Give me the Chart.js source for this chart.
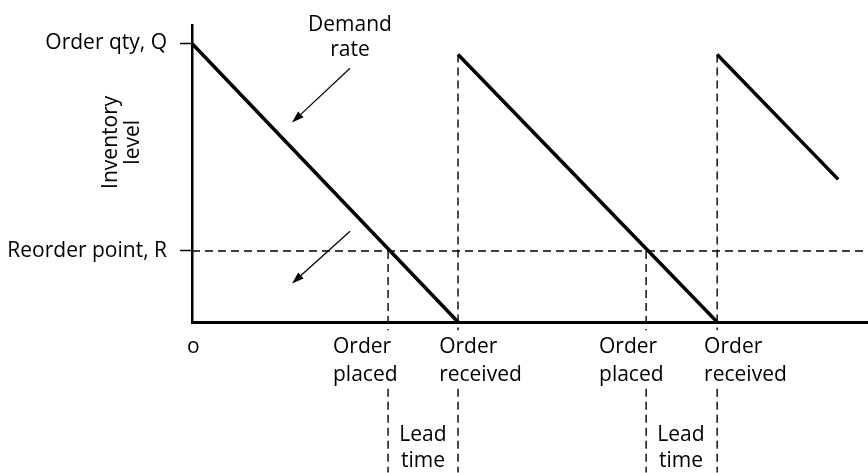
<!DOCTYPE html>
<html>
<head>
<meta charset="utf-8">
<script src="https://cdn.jsdelivr.net/npm/chart.js@4/dist/chart.umd.min.js"></script>
<style>
html,body{margin:0;padding:0;background:#fff;}
#c{display:block;}
</style>
</head>
<body>
<canvas id="c" width="868" height="473"></canvas>
<script>
// ---- data (time units on x, inventory units on y) ----
const cycleStart = [0, 10, 19.74];
const cycleEnd = [10, 19.74, 24.29];
const startLevel = [100, 96, 96];
const endLevel = [0, 0, 51.2];
const orderQty = 100;
const reorderPoint = 25.5;
const orderPlaced = [7.37, 17.07];
const orderReceived = [10, 19.74];
const receivedLevel = [96, 96];
const yTickValues = [25.5, 100];
const yTickLabels = ['Reorder point, R', 'Order qty, Q'];
const xMax = 25.41;
const yMax = 106.4;

const FONT = '"Open Sans", "Noto Sans", sans-serif';
const FSIZE = 21;

// inventory sawtooth
const sawtooth = [];
for (let i = 0; i < cycleStart.length; i++) {
  if (i > 0) sawtooth.push({x: cycleStart[i], y: null});
  sawtooth.push({x: cycleStart[i], y: startLevel[i]});
  sawtooth.push({x: cycleEnd[i], y: endLevel[i]});
}
// vertical dashed guides
const guides = [];
const guideTops = orderPlaced.map(x => ({x, top: reorderPoint}))
  .concat(orderReceived.map((x, i) => ({x, top: receivedLevel[i]})));
guideTops.forEach(g => {
  guides.push({x: g.x, y: g.top});
  guides.push({x: g.x, y: -3});
  guides.push({x: g.x, y: null});
  guides.push({x: g.x, y: -24});
  guides.push({x: g.x, y: -54});
  guides.push({x: g.x, y: null});
});

const texts = [
  {t: 'o', x: 0.05, y: -11.0, align: 'center'},
  {t: 'Order', x: 5.30, y: -11.0, align: 'left'},
  {t: 'placed', x: 5.30, y: -21.3, align: 'left'},
  {t: 'Order', x: 9.29, y: -11.0, align: 'left'},
  {t: 'received', x: 9.29, y: -21.3, align: 'left'},
  {t: 'Order', x: 15.30, y: -11.0, align: 'left'},
  {t: 'placed', x: 15.30, y: -21.3, align: 'left'},
  {t: 'Order', x: 19.25, y: -11.0, align: 'left'},
  {t: 'received', x: 19.25, y: -21.3, align: 'left'},
  {t: 'Lead', x: 8.68, y: -42.6, align: 'center'},
  {t: 'time', x: 8.68, y: -52.1, align: 'center'},
  {t: 'Lead', x: 18.38, y: -42.6, align: 'center'},
  {t: 'time', x: 18.38, y: -52.1, align: 'center'},
  {t: 'Demand', x: 5.94, y: 104.3, align: 'center'},
  {t: 'rate', x: 5.94, y: 95.4, align: 'center'}
];
const rotTexts = [
  {t: 'Inventory', x: -3.05, y: 64.5},
  {t: 'level', x: -2.22, y: 64.5}
];
const arrows = [
  {x1: 5.94, y1: 91.1, x2: 3.76, y2: 71.6},
  {x1: 5.94, y1: 32.6, x2: 3.76, y2: 13.8}
];

const annot = {
  id: 'annot',
  afterDraw(chart) {
    const ctx = chart.ctx, xs = chart.scales.x, ys = chart.scales.y;
    ctx.save();
    ctx.fillStyle = '#000';
    ctx.font = FSIZE + 'px ' + FONT;
    ctx.textBaseline = 'alphabetic';
    texts.forEach(o => {
      ctx.textAlign = o.align;
      ctx.fillText(o.t, xs.getPixelForValue(o.x), ys.getPixelForValue(o.y));
    });
    rotTexts.forEach(o => {
      ctx.save();
      ctx.translate(xs.getPixelForValue(o.x), ys.getPixelForValue(o.y));
      ctx.rotate(-Math.PI / 2);
      ctx.textAlign = 'center';
      ctx.textBaseline = 'middle';
      ctx.fillText(o.t, 0, 0);
      ctx.restore();
    });
    arrows.forEach(a => {
      const x1 = xs.getPixelForValue(a.x1), y1 = ys.getPixelForValue(a.y1);
      const x2 = xs.getPixelForValue(a.x2), y2 = ys.getPixelForValue(a.y2);
      const ang = Math.atan2(y2 - y1, x2 - x1);
      const hl = 12, hw = 4;
      const bx = x2 - hl * Math.cos(ang), by = y2 - hl * Math.sin(ang);
      ctx.strokeStyle = '#000';
      ctx.lineWidth = 1.2;
      ctx.beginPath();
      ctx.moveTo(x1, y1);
      ctx.lineTo(bx, by);
      ctx.stroke();
      ctx.beginPath();
      ctx.moveTo(x2, y2);
      ctx.lineTo(bx + hw * Math.sin(ang), by - hw * Math.cos(ang));
      ctx.lineTo(bx - hw * Math.sin(ang), by + hw * Math.cos(ang));
      ctx.closePath();
      ctx.fill();
    });
    ctx.restore();
  }
};

new Chart(document.getElementById('c'), {
  type: 'line',
  data: {
    datasets: [
      {
        data: [{x: 0, y: reorderPoint}, {x: xMax, y: reorderPoint}],
        borderColor: '#000', borderWidth: 1.4, borderDash: [8, 5],
        pointRadius: 0, clip: false
      },
      {
        data: guides,
        borderColor: '#000', borderWidth: 1.4, borderDash: [8, 5],
        pointRadius: 0, spanGaps: false, clip: false
      },
      {
        data: sawtooth,
        borderColor: '#000', borderWidth: 3.5, borderCapStyle: 'butt',
        pointRadius: 0, spanGaps: false, clip: false
      }
    ]
  },
  options: {
    responsive: false,
    animation: false,
    devicePixelRatio: 1,
    layout: {padding: {top: 22, right: 0, left: 0, bottom: 0}},
    plugins: {legend: {display: false}, tooltip: {enabled: false}},
    scales: {
      x: {
        type: 'linear', min: 0, max: xMax,
        grid: {display: false},
        ticks: {display: false},
        border: {display: true, color: '#000', width: 3},
        afterFit(s) { s.height = 151; }
      },
      y: {
        type: 'linear', min: 0, max: yMax,
        afterBuildTicks(s) { s.ticks = yTickValues.map(v => ({value: v})); },
        ticks: {
          color: '#000', padding: 13,
          font: {family: FONT, size: FSIZE},
          callback(v) { const i = yTickValues.indexOf(v); return i >= 0 ? yTickLabels[i] : ''; }
        },
        grid: {drawOnChartArea: false, drawTicks: true, tickLength: 12, tickWidth: 1.5, tickColor: '#000'},
        border: {display: true, color: '#000', width: 2.5},
        afterFit(s) { s.width = 192; }
      }
    }
  },
  plugins: [annot]
});
</script>
</body>
</html>
